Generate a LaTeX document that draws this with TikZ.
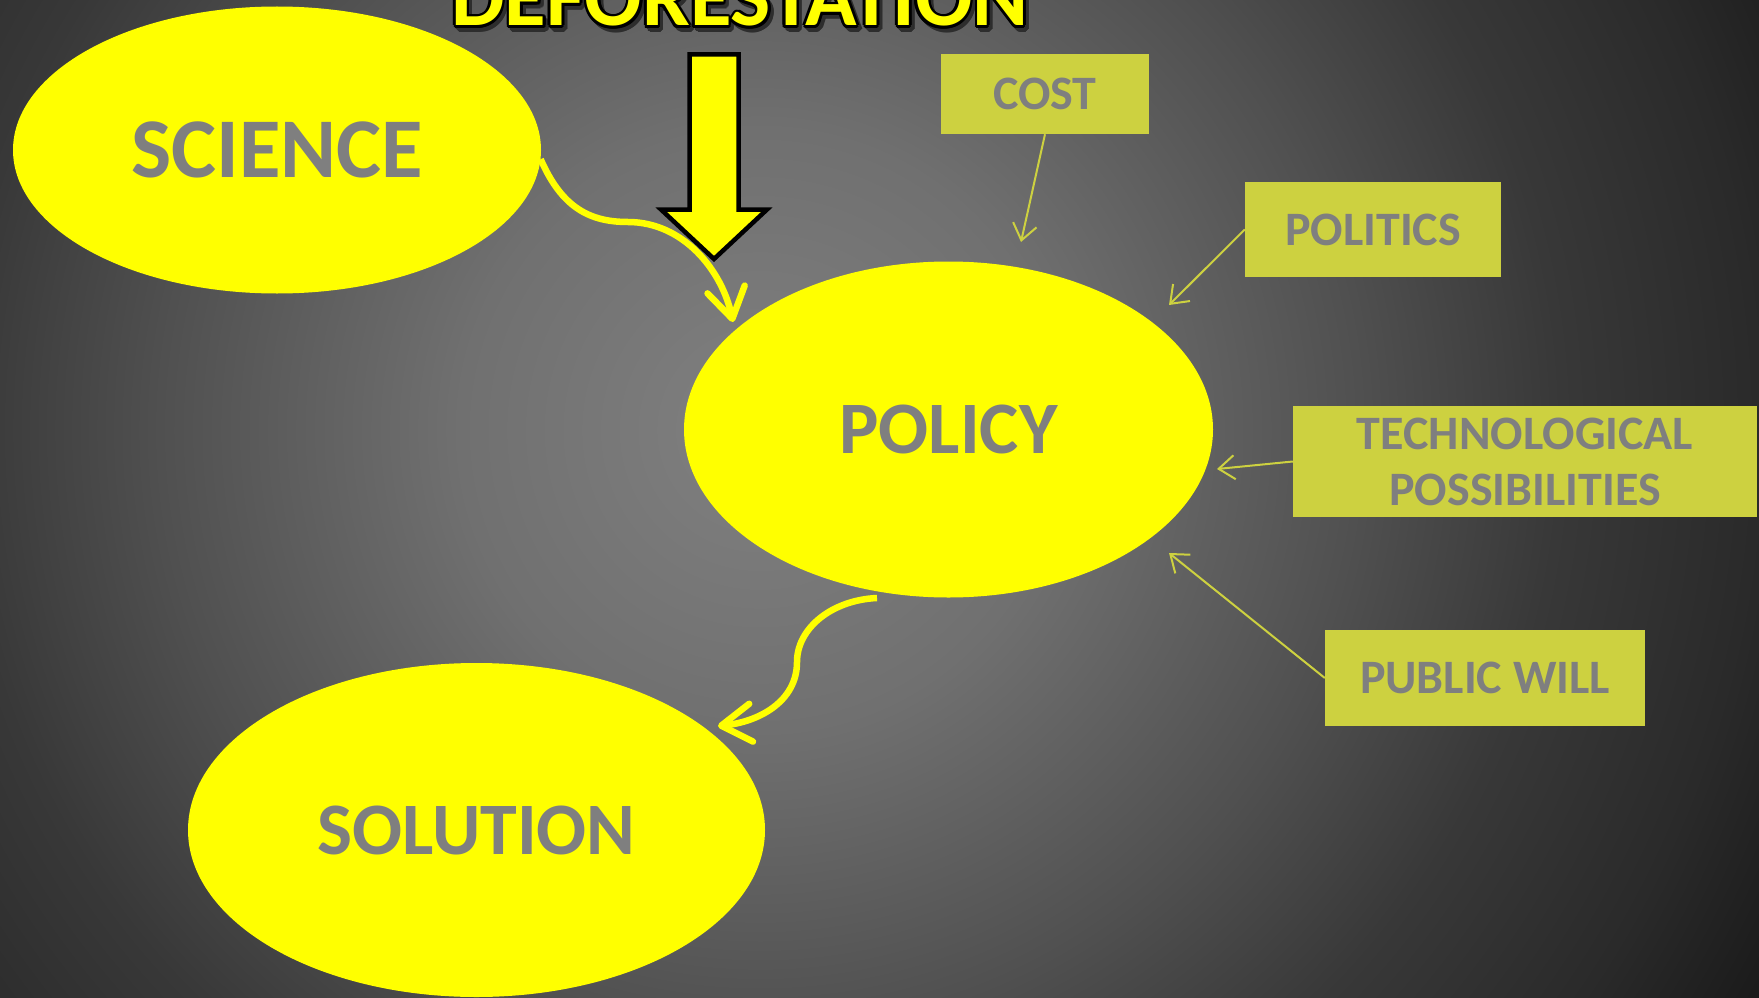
\documentclass[tikz,border=0pt]{standalone}
\usepackage{fontspec}
\setmainfont{Carlito}
\usetikzlibrary{shapes.geometric,arrows.meta}
\definecolor{ylw}{RGB}{255,255,0}
\definecolor{txtg}{RGB}{127,127,127}
\definecolor{boxc}{RGB}{205,209,64}
\definecolor{shadc}{RGB}{45,45,45}
\definecolor{bgA}{RGB}{128,128,128}
\definecolor{bgB}{RGB}{112,112,112}
\definecolor{bgC}{RGB}{80,80,80}
\definecolor{bgD}{RGB}{56,56,56}
\definecolor{bgE}{RGB}{42,42,42}
\definecolor{bgF}{RGB}{26,26,26}
\pgfdeclareradialshading{bgshade}{\pgfpoint{0bp}{0bp}}{%
  color(0bp)=(bgA); color(6.25bp)=(bgB); color(12.5bp)=(bgC);
  color(16.7bp)=(bgD); color(20.8bp)=(bgE); color(24bp)=(bgF); color(50bp)=(bgF)}
\newcommand\rcopy[4]{\rlap{\kern\dimexpr#1\relax\raisebox{\dimexpr#2\relax}{\color{#3}#4}}}
\newcommand\ringtxt[4]{%
  \rcopy{#1+2.6pt}{#2}{#3}{#4}%
  \rcopy{#1+2.25pt}{#2+1.3pt}{#3}{#4}%
  \rcopy{#1+1.3pt}{#2+2.25pt}{#3}{#4}%
  \rcopy{#1}{#2+2.6pt}{#3}{#4}%
  \rcopy{#1-1.3pt}{#2+2.25pt}{#3}{#4}%
  \rcopy{#1-2.25pt}{#2+1.3pt}{#3}{#4}%
  \rcopy{#1-2.6pt}{#2}{#3}{#4}%
  \rcopy{#1-2.25pt}{#2-1.3pt}{#3}{#4}%
  \rcopy{#1-1.3pt}{#2-2.25pt}{#3}{#4}%
  \rcopy{#1}{#2-2.6pt}{#3}{#4}%
  \rcopy{#1+1.3pt}{#2-2.25pt}{#3}{#4}%
  \rcopy{#1+2.25pt}{#2-1.3pt}{#3}{#4}}
\tikzset{
  ell/.style={ellipse, fill=ylw, text=txtg, inner sep=0pt,
    font=\fontsize{74}{74}\selectfont\bfseries},
  bx/.style={rectangle, fill=boxc, text=txtg, inner sep=0pt, align=center,
    font=\fontsize{48}{56}\selectfont\bfseries},
  bigarr/.style={draw=ylw, line width=6.5pt,
    -{Straight Barb[length=30pt,width=38pt,round]}},
  thinarr/.style={draw=boxc, line width=2pt,
    -{Straight Barb[length=16pt,width=24pt]}},
  blockarr/.style={fill=ylw, draw=black, line width=4.5pt, line join=miter}
}
\begin{document}
\begin{tikzpicture}[x=1pt,y=-1pt]
\useasboundingbox (0,0) rectangle (1759,998);
\begin{scope}
  \clip (0,0) rectangle (1759,998);
  \shade[shading=bgshade] (760,430) circle[radius=1200pt];
\end{scope}
% title
\node[font=\fontsize{85}{85}\selectfont\bfseries, anchor=base, inner sep=0pt] (title) at (740,26)
  {\ringtxt{3pt}{-3.5pt}{shadc}{DEFORESTATION}\ringtxt{0pt}{0pt}{black}{DEFORESTATION}{\color{ylw}DEFORESTATION}};
% ellipses
\node[ell, minimum width=528pt, minimum height=287pt, font=\fontsize{85}{85}\selectfont\bfseries] (sci) at (277,150) {SCIENCE};
\node[ell, minimum width=529pt, minimum height=336pt] (pol) at (948.5,429.5) {POLICY};
\node[ell, minimum width=577pt, minimum height=334pt] (sol) at (476.5,830) {SOLUTION};
% boxes
\node[bx, minimum width=208pt, minimum height=80pt] (cost) at (1045,94) {COST};
\node[bx, minimum width=256pt, minimum height=95pt] (polit) at (1373,229.5) {POLITICS};
\node[bx, minimum width=464pt, minimum height=111pt] (tech) at (1525,461.5) {TECHNOLOGICAL\\POSSIBILITIES};
\node[bx, minimum width=320pt, minimum height=96pt] (pub) at (1485,678) {PUBLIC WILL};
% block arrow
\draw[blockarr] (689.5,54.5) -- (738.5,54.5) -- (738.5,209.5) -- (767,209.5) -- (714,259) -- (661,209.5) -- (689.5,209.5) -- cycle;
% thick curved arrows
\coordinate (sciTip) at (733,322);
\draw[bigarr] (sci.-2) .. controls (562,208) and (590,222) .. (628,222) .. controls (683,222) and (722,270) .. (sciTip);
\coordinate (polOut) at (877,598);
\coordinate (solTip) at (718,726);
\draw[bigarr] (polOut) .. controls (832,600) and (797,628) .. (797,662) .. controls (797,702) and (758,722) .. (solTip);
% thin arrows
\coordinate (costTip) at (1021,242);
\coordinate (politTip) at (1169,305);
\coordinate (techTip) at (1217,469);
\coordinate (pubTip) at (1169,553);
\draw[thinarr] (cost.south) -- (costTip);
\draw[thinarr] (polit.west) -- (politTip);
\draw[thinarr] (tech.west) -- (techTip);
\draw[thinarr] (pub.west) -- (pubTip);
\end{tikzpicture}
\end{document}
